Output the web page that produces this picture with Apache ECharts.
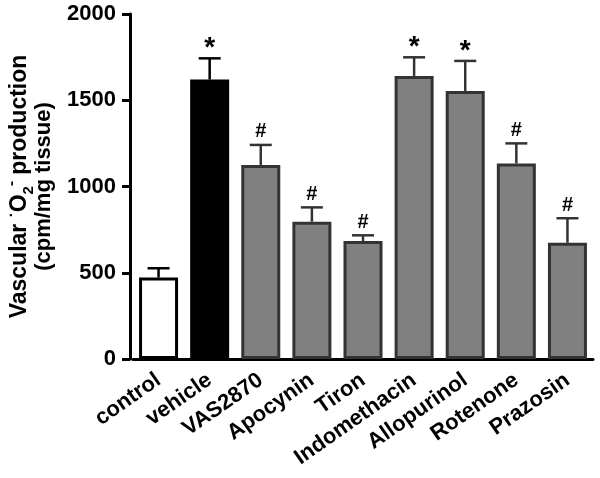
<!DOCTYPE html>
<html>
<head>
<meta charset="utf-8">
<script src="https://cdn.jsdelivr.net/npm/echarts@6/dist/echarts.min.js"></script>
<style>
  html, body { margin: 0; padding: 0; background: #fff; }
  #chart { width: 600px; height: 478px; }
</style>
</head>
<body>
<div id="chart"></div>
<script>
const categories = ['control', 'vehicle', 'VAS2870', 'Apocynin', 'Tiron', 'Indomethacin', 'Allopurinol', 'Rotenone', 'Prazosin'];
const means = [472, 1620, 1125, 796, 684, 1641, 1554, 1134, 674];
const upper = [526, 1743, 1241, 879, 717, 1749, 1728, 1250, 816];
const marks = ['', '*', '#', '#', '#', '*', '*', '#', '#'];
const yTicks = [0, 500, 1000, 1500, 2000];

const FONT = 'Liberation Sans, Arial, sans-serif';

// control is open, vehicle solid black, treatments grey
function barFill(i) {
  if (i === 0) return '#ffffff';
  if (i === 1) return '#000000';
  return '#808080';
}
function barEdge(i) {
  return i < 2 ? '#000000' : '#333333';
}

const chart = echarts.init(document.getElementById('chart'), null, { renderer: 'canvas' });

chart.setOption({
  animation: false,
  grid: { left: 133, right: 7, top: 14, bottom: 119, outerBoundsMode: 'none' },
  xAxis: {
    type: 'category',
    data: categories,
    axisLine: { show: true, lineStyle: { color: '#000', width: 3 } },
    axisTick: { show: false },
    axisLabel: {
      interval: 0,
      rotate: 35,
      margin: 19,
      color: '#000',
      fontFamily: FONT,
      fontWeight: 'bold',
      fontSize: 22
    }
  },
  yAxis: {
    type: 'value',
    min: yTicks[0],
    max: yTicks[yTicks.length - 1],
    interval: 500,
    offset: 3,
    splitLine: { show: false },
    axisLine: { show: true, lineStyle: { color: '#000', width: 3 } },
    axisTick: { show: true, length: 8, lineStyle: { color: '#000', width: 3 } },
    axisLabel: {
      color: '#000',
      fontFamily: FONT,
      fontWeight: 'bold',
      fontSize: 22,
      margin: 14,
      formatter: (v) => String(v)
    },
    name: '{t|Vascular }{sup|·}{t|O}{sub|2}{sup|-}{t| production}\n{u|(cpm/mg tissue)}',
    nameLocation: 'middle',
    nameGap: 74,
    nameTextStyle: {
      color: '#000',
      fontFamily: FONT,
      fontWeight: 'bold',
      fontSize: 22,
      lineHeight: 24,
      rich: {
        t: { fontFamily: FONT, fontWeight: 'bold', fontSize: 23, lineHeight: 24, color: '#000' },
        u: { fontFamily: FONT, fontWeight: 'bold', fontSize: 22, lineHeight: 24, color: '#000' },
        sub: { fontFamily: FONT, fontWeight: 'bold', fontSize: 15, lineHeight: 24, verticalAlign: 'bottom', padding: [0, 0, -4, 0], color: '#000' },
        sup: { fontFamily: FONT, fontWeight: 'bold', fontSize: 15, lineHeight: 24, verticalAlign: 'top', padding: [-4, 0, 0, 0], color: '#000' }
      }
    }
  },
  series: [
    {
      type: 'bar',
      barWidth: 39,
      data: means.map((v, i) => ({
        value: v,
        itemStyle: { color: barFill(i), borderColor: barEdge(i), borderWidth: 3 }
      })),
      z: 2
    },
    {
      // upper error bar with cap and significance mark
      type: 'custom',
      data: upper.map((u, i) => [i, means[i], u]),
      z: 1,
      renderItem: function (params, api) {
        const i = api.value(0);
        const base = api.coord([i, api.value(1)]);
        const top = api.coord([i, api.value(2)]);
        const col = barEdge(params.dataIndex);
        const mark = marks[params.dataIndex];
        const children = [
          { type: 'line', shape: { x1: base[0], y1: base[1], x2: top[0], y2: top[1] }, style: { stroke: col, lineWidth: 2.5 } },
          { type: 'line', shape: { x1: top[0] - 11, y1: top[1], x2: top[0] + 11, y2: top[1] }, style: { stroke: col, lineWidth: 2.5 } }
        ];
        if (mark) {
          const star = mark === '*';
          children.push({
            type: 'text',
            style: {
              text: mark,
              x: top[0],
              y: top[1] - (star ? -4 : 3),
              align: 'center',
              verticalAlign: 'bottom',
              fill: '#000',
              font: 'bold ' + (star ? 28 : 20) + 'px ' + FONT
            }
          });
        }
        return { type: 'group', children: children };
      }
    }
  ]
});
</script>
</body>
</html>
